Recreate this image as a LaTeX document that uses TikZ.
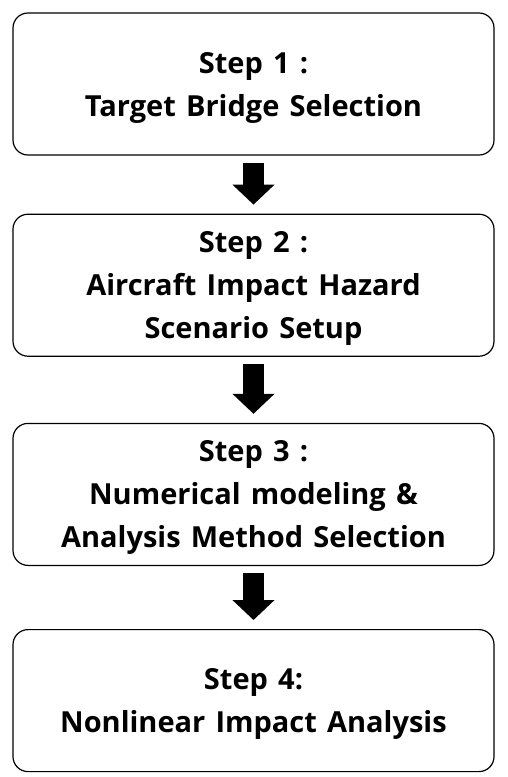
\documentclass[tikz,border=0pt]{standalone}
\usepackage{fontspec}
\setmainfont{Open Sans}[WordSpace=1.35]
\usetikzlibrary{positioning,arrows.meta}
\tikzset{
    every node/.style={font=\fontsize{29}{43}\selectfont\bfseries},
    stepbox/.style={rounded corners=15pt,draw=black,line width=1.2pt,fill=white,
        minimum width=481pt,minimum height=142pt,align=center,inner sep=0pt,text depth=0pt},
    flowarrow/.style={draw=black,line width=21pt,-{Triangle[width=41pt,length=20pt]},
        shorten <=7pt,shorten >=9pt}
}
\begin{document}
\begin{tikzpicture}
\useasboundingbox (0pt,0pt) rectangle (507pt,-777pt);
\node[stepbox] (s1) at (253.5pt,-84pt) {Step 1 :\\Target Bridge Selection};
\node[stepbox,below=58pt of s1] (s2) {Step 2 :\\Aircraft Impact Hazard\\Scenario Setup};
\node[stepbox,below=66pt of s2] (s3) {Step 3 :\\Numerical modeling \&\\Analysis Method Selection};
\node[stepbox,below=63pt of s3] (s4) {Step 4:\\Nonlinear Impact Analysis};
% arrows between steps
\draw[flowarrow] (s1) -- (s2);
\draw[flowarrow] (s2) -- (s3);
\draw[flowarrow] (s3) -- (s4);
\end{tikzpicture}
\end{document}
